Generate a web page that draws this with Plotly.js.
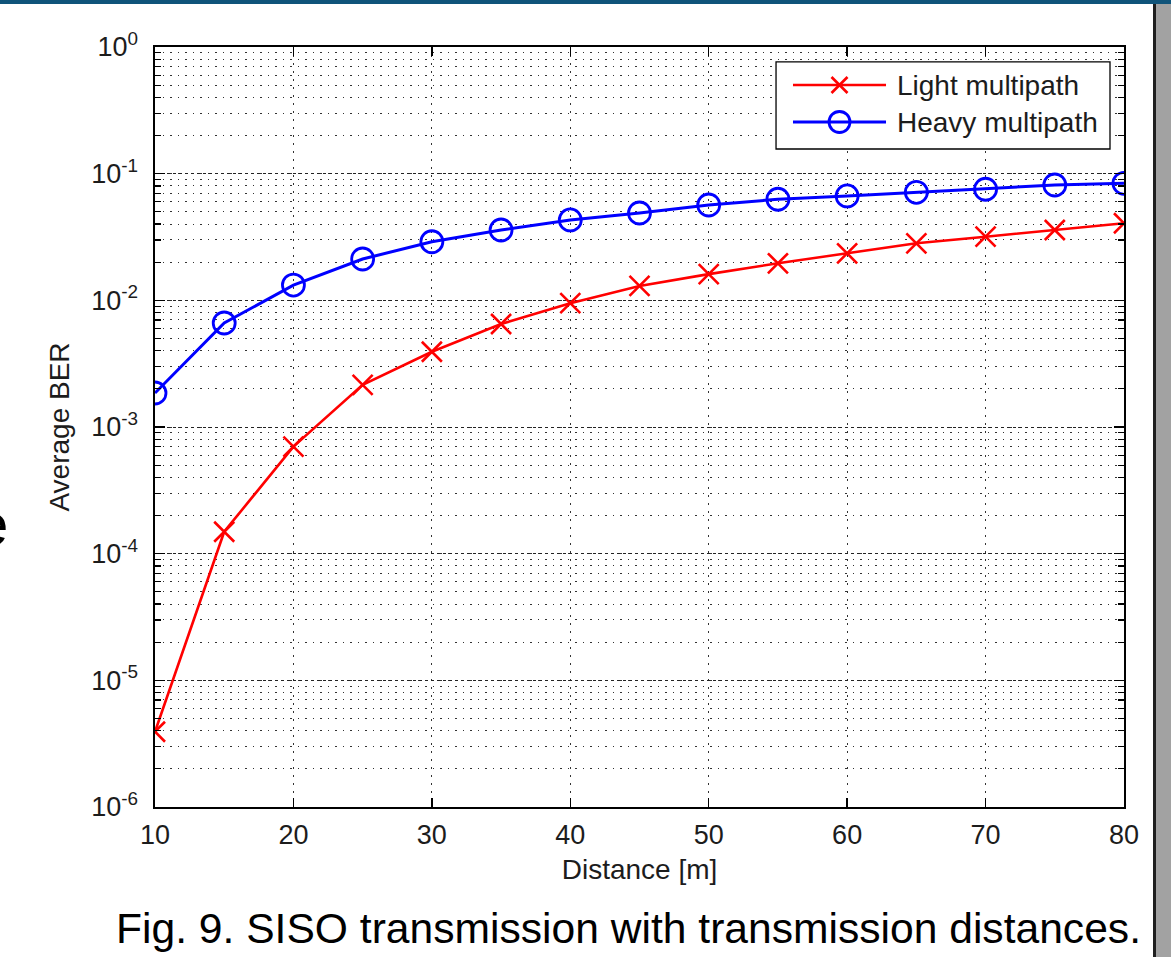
<!DOCTYPE html>
<html>
<head>
<meta charset="utf-8">
<script src="https://cdn.plot.ly/plotly-3.0.1.min.js"></script>
<style>
  html, body { margin: 0; padding: 0; background: #ffffff; }
  #wrap { position: relative; width: 1171px; height: 957px; overflow: hidden; }
  #chart { position: absolute; left: 0; top: 0; width: 1171px; height: 957px; }
  #topbar { position: absolute; left: 0; top: 0; width: 1171px; height: 4px; background: #10547a; z-index: 5; }
  #rline { position: absolute; left: 1153px; top: 4px; width: 3px; height: 953px; background: #1e1e1e; z-index: 5; }
  #rgray { position: absolute; left: 1156px; top: 4px; width: 15px; height: 953px; background: #a2a2a2; z-index: 5; }
  #edge { position: absolute; left: -25px; top: 495px; font-family: "Liberation Sans", Arial, sans-serif; font-size: 60px; color: #000; z-index: 5; line-height: 1; }
</style>
</head>
<body>
<div id="wrap">
  <div id="chart"></div>
  <div id="topbar"></div>
  <div id="rline"></div>
  <div id="rgray"></div>
  <div id="edge">e</div>
</div>
<script>
// Data
const distance = [10, 15, 20, 25, 30, 35, 40, 45, 50, 55, 60, 65, 70, 75, 80];
const lightBER = [3.93e-6, 1.49e-4, 7.0e-4, 2.15e-3, 3.93e-3, 6.5e-3, 9.5e-3, 1.30e-2, 1.61e-2, 1.96e-2, 2.35e-2, 2.82e-2, 3.18e-2, 3.59e-2, 4.06e-2];
const heavyBER = [1.855e-3, 6.62e-3, 1.32e-2, 2.12e-2, 2.90e-2, 3.59e-2, 4.31e-2, 4.89e-2, 5.66e-2, 6.28e-2, 6.67e-2, 7.13e-2, 7.53e-2, 8.14e-2, 8.39e-2];
const seriesNames = ["Light multipath", "Heavy multipath"];
const seriesColors = ["#ff0000", "#0000ff"];
const xTicks = [10, 20, 30, 40, 50, 60, 70, 80];
const yTickVals = [1e-6, 1e-5, 1e-4, 1e-3, 1e-2, 1e-1, 1];
const yTickText = ["10<sup>-6</sup>", "10<sup>-5</sup>", "10<sup>-4</sup>", "10<sup>-3</sup>", "10<sup>-2</sup>", "10<sup>-1</sup>", "10<sup>0</sup>"];
const xTitle = "Distance [m]";
const yTitle = "Average BER";
const caption = "Fig. 9. SISO transmission with transmission distances.";

const FONT = '"Liberation Sans", Arial, Helvetica, sans-serif';
const TXT = '#1c1c1c';

const traces = [
  {
    x: distance, y: lightBER, name: seriesNames[0], type: 'scatter', mode: 'lines+markers',
    line: { color: seriesColors[0], width: 2.6 },
    marker: { symbol: 'x-thin-open', size: 20, color: seriesColors[0], line: { width: 2.6, color: seriesColors[0] } }
  },
  {
    x: distance, y: heavyBER, name: seriesNames[1], type: 'scatter', mode: 'lines+markers',
    line: { color: seriesColors[1], width: 3 },
    marker: { symbol: 'circle-open', size: 22, color: seriesColors[1], line: { width: 2.8, color: seriesColors[1] } }
  }
];

// Legend box (MATLAB style: long line sample with marker centred on it)
const legBox = { x0: 0.6409, x1: 0.98555, y0: 0.8658, y1: 0.9803 };
const legRows = [0.950, 0.9013];
const legLine = { x0: 0.6584, x1: 0.7544, mid: 0.7064 };
const legTextX = 0.7637;

const shapes = [
  { type: 'rect', xref: 'paper', yref: 'paper', x0: legBox.x0, x1: legBox.x1, y0: legBox.y0, y1: legBox.y1,
    fillcolor: '#ffffff', line: { color: '#000000', width: 1.3 }, layer: 'above' },
  { type: 'line', xref: 'paper', yref: 'paper', x0: legLine.x0, x1: legLine.x1, y0: legRows[0], y1: legRows[0],
    line: { color: seriesColors[0], width: 2.6 }, layer: 'above' },
  { type: 'line', xref: 'paper', yref: 'paper', xsizemode: 'pixel', ysizemode: 'pixel',
    xanchor: legLine.mid, yanchor: legRows[0], x0: -8, x1: 8, y0: -8, y1: 8,
    line: { color: seriesColors[0], width: 2.6 }, layer: 'above' },
  { type: 'line', xref: 'paper', yref: 'paper', xsizemode: 'pixel', ysizemode: 'pixel',
    xanchor: legLine.mid, yanchor: legRows[0], x0: -8, x1: 8, y0: 8, y1: -8,
    line: { color: seriesColors[0], width: 2.6 }, layer: 'above' },
  { type: 'line', xref: 'paper', yref: 'paper', x0: legLine.x0, x1: legLine.x1, y0: legRows[1], y1: legRows[1],
    line: { color: seriesColors[1], width: 3 }, layer: 'above' },
  { type: 'circle', xref: 'paper', yref: 'paper', xsizemode: 'pixel', ysizemode: 'pixel',
    xanchor: legLine.mid, yanchor: legRows[1], x0: -10.5, x1: 10.5, y0: -10.5, y1: 10.5,
    fillcolor: 'rgba(0,0,0,0)', line: { color: seriesColors[1], width: 2.8 }, layer: 'above' }
];

const annotations = [
  { text: seriesNames[0], xref: 'paper', yref: 'paper', x: legTextX, y: legRows[0],
    xanchor: 'left', yanchor: 'middle', showarrow: false,
    font: { family: FONT, size: 28, color: TXT } },
  { text: seriesNames[1], xref: 'paper', yref: 'paper', x: legTextX, y: legRows[1],
    xanchor: 'left', yanchor: 'middle', showarrow: false,
    font: { family: FONT, size: 28, color: TXT } },
  { text: caption, xref: 'paper', yref: 'paper', x: 0.4886, y: -0.1592,
    xanchor: 'center', yanchor: 'middle', showarrow: false,
    font: { family: FONT, size: 42.6, color: '#000000' } }
];

const layout = {
  width: 1171, height: 957,
  margin: { l: 155, r: 47, t: 47, b: 150, pad: 0 },
  paper_bgcolor: '#ffffff', plot_bgcolor: '#ffffff',
  font: { family: FONT, size: 27, color: TXT },
  showlegend: false,
  hovermode: false,
  xaxis: {
    type: 'linear', range: [10, 80], tickvals: xTicks, ticktext: xTicks.map(String),
    ticks: 'inside', ticklen: 9, tickwidth: 1.3, tickcolor: '#000',
    showline: true, linecolor: '#000', linewidth: 1.6, mirror: 'ticks',
    showgrid: true, gridcolor: '#333', gridwidth: 1, griddash: '1.5px,6.5px',
    zeroline: false, ticklabelstandoff: 3,
    tickfont: { family: FONT, size: 27, color: TXT },
    title: { text: xTitle, font: { family: FONT, size: 28, color: TXT }, standoff: 10 }
  },
  yaxis: {
    type: 'log', range: [-6, 0], tickvals: yTickVals, ticktext: yTickText,
    ticks: 'inside', ticklen: 10, tickwidth: 1.3, tickcolor: '#000',
    showline: true, linecolor: '#000', linewidth: 1.6, mirror: 'ticks',
    showgrid: true, gridcolor: '#222', gridwidth: 1, griddash: '3px,3px',
    minor: { dtick: 'D1', ticks: 'inside', ticklen: 6, tickwidth: 1.2, tickcolor: '#000',
             showgrid: true, gridcolor: '#333', gridwidth: 1, griddash: '1.5px,6px' },
    zeroline: false, ticklabelstandoff: 10,
    tickfont: { family: FONT, size: 27, color: TXT },
    title: { text: yTitle, font: { family: FONT, size: 28, color: TXT }, standoff: 13 }
  },
  shapes: shapes,
  annotations: annotations
};

Plotly.newPlot('chart', traces, layout, { displayModeBar: false, staticPlot: true });
</script>
</body>
</html>
